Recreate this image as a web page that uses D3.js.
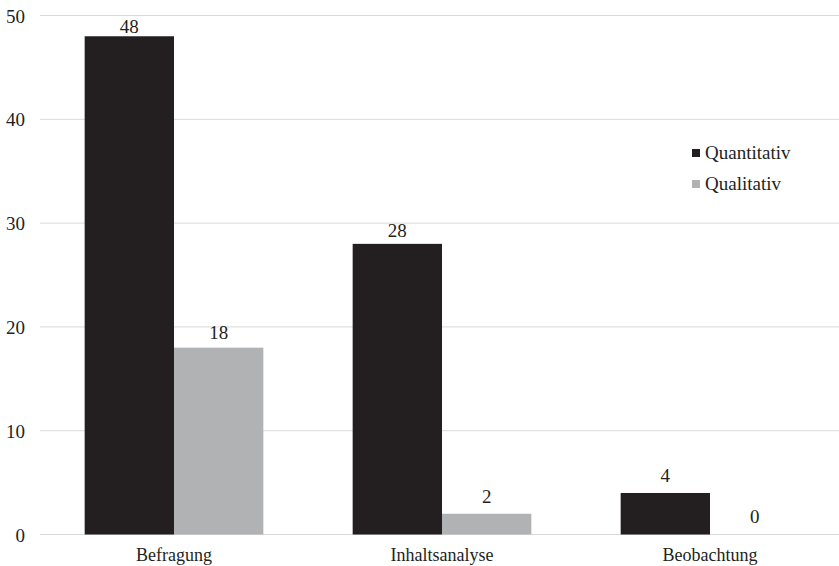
<!DOCTYPE html>
<html lang="de">

<head>
    <meta charset="UTF-8">
    <title>Methoden</title>
    <style>
        body {
            margin: 0;
            padding: 0;
            overflow: hidden;
            background-color: #ffffff;
        }

        svg {
            display: block;
            font-family: "Liberation Serif", "Times New Roman", serif;
        }
    </style>
</head>

<body>
    <script src="https://d3js.org/d3.v7.min.js"></script>
    <script>
        const categories = ['Befragung', 'Inhaltsanalyse', 'Beobachtung'];
        const seriesNames = ['Quantitativ', 'Qualitativ'];
        const quantitativ = [48, 28, 4];
        const qualitativ = [18, 2, 0];
        const yTicks = [0, 10, 20, 30, 40, 50];

        const colors = ['#231f20', '#b1b2b4'];
        const width = 839;
        const height = 566;

        const svg = d3.select('body')
            .append('svg')
            .attr('width', width)
            .attr('height', height);

        const x0 = d3.scaleBand()
            .domain(categories)
            .range([40, 844])
            .padding(0);

        const x1 = d3.scaleBand()
            .domain(seriesNames)
            .range([0, x0.bandwidth()])
            .paddingInner(0)
            .paddingOuter(0.5);

        const y = d3.scaleLinear()
            .domain([0, 50])
            .range([534.5, 15.5]);

        // value labels sit on a slightly compressed scale (as in the original)
        const yLabel = d3.scaleLinear()
            .domain([0, 50])
            .range([523, 13]);

        // gridlines
        svg.append('g')
            .selectAll('line')
            .data(yTicks)
            .enter()
            .append('line')
            .attr('x1', 40)
            .attr('x2', width)
            .attr('y1', d => y(d))
            .attr('y2', d => y(d))
            .attr('stroke', '#d9d9d9')
            .attr('stroke-width', 1);

        // y tick labels
        svg.append('g')
            .selectAll('text')
            .data(yTicks)
            .enter()
            .append('text')
            .attr('x', 25)
            .attr('y', d => y(d) + 7)
            .attr('text-anchor', 'end')
            .attr('font-size', 19)
            .attr('fill', '#231f20')
            .text(d => d);

        const rows = categories.map((c, i) => ({
            cat: c,
            values: [quantitativ[i], qualitativ[i]]
        }));

        const groups = svg.append('g')
            .selectAll('g')
            .data(rows)
            .enter()
            .append('g')
            .attr('transform', d => `translate(${x0(d.cat)},0)`);

        groups.selectAll('rect')
            .data(d => d.values.map((v, j) => ({ key: seriesNames[j], v: v, j: j })))
            .enter()
            .append('rect')
            .attr('x', d => x1(d.key))
            .attr('y', d => y(d.v))
            .attr('width', x1.bandwidth())
            .attr('height', d => y(0) - y(d.v))
            .attr('fill', d => colors[d.j]);

        groups.selectAll('text')
            .data(d => d.values.map((v, j) => ({ key: seriesNames[j], v: v })))
            .enter()
            .append('text')
            .attr('x', d => x1(d.key) + x1.bandwidth() / 2)
            .attr('y', d => yLabel(d.v))
            .attr('text-anchor', 'middle')
            .attr('font-size', 19)
            .attr('fill', '#231f20')
            .text(d => d.v);

        // category labels
        svg.append('g')
            .selectAll('text')
            .data(categories)
            .enter()
            .append('text')
            .attr('x', d => x0(d) + x0.bandwidth() / 2)
            .attr('y', 561)
            .attr('text-anchor', 'middle')
            .attr('font-size', 18)
            .attr('fill', '#231f20')
            .text(d => d);

        // legend
        const legend = svg.append('g')
            .selectAll('g')
            .data(seriesNames)
            .enter()
            .append('g')
            .attr('transform', (d, i) => `translate(692,${149 + i * 31})`);

        legend.append('rect')
            .attr('width', 8)
            .attr('height', 8)
            .attr('fill', (d, i) => colors[i]);

        legend.append('text')
            .attr('x', 13)
            .attr('y', 10)
            .attr('font-size', 19)
            .attr('fill', '#231f20')
            .text(d => d);
    </script>
</body>

</html>
